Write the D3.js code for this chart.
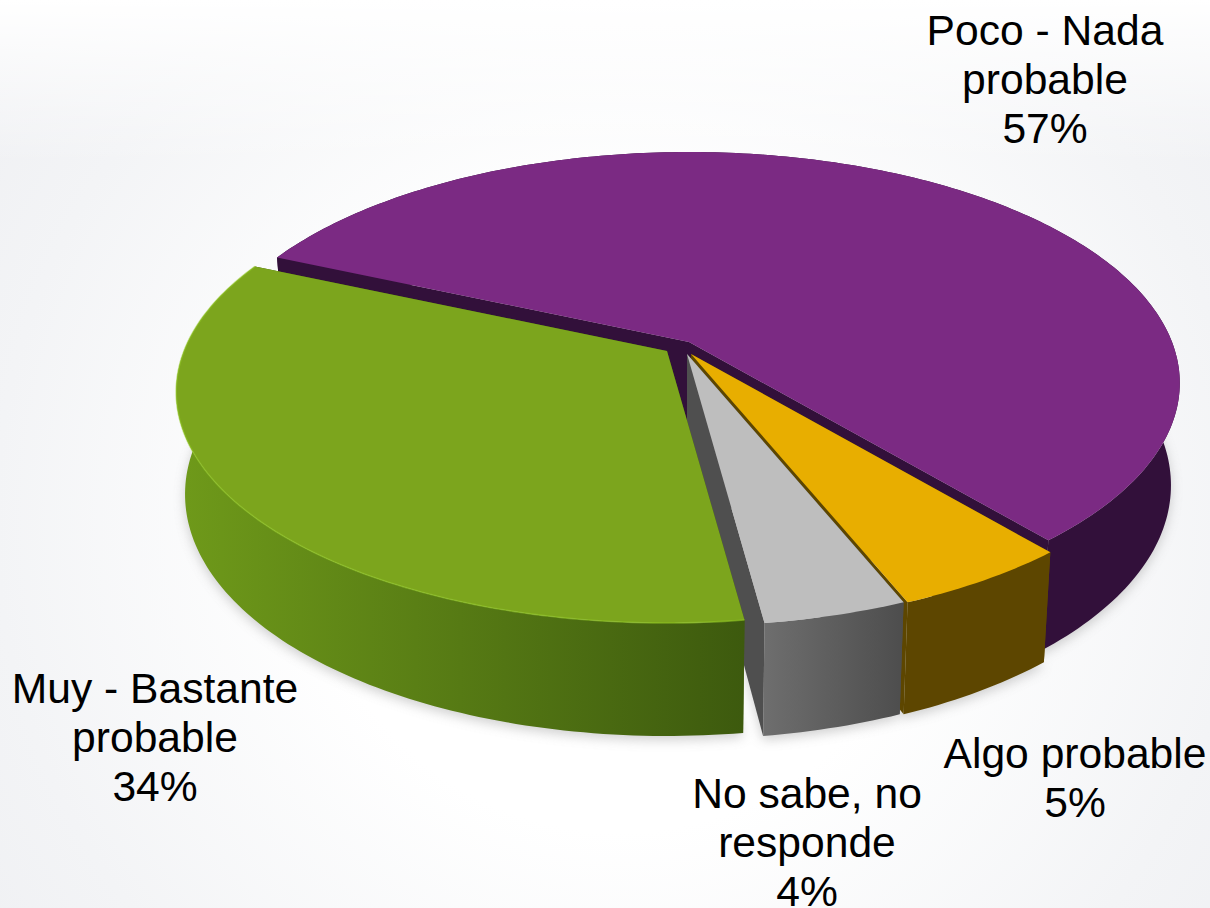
<!DOCTYPE html>
<html><head><meta charset="utf-8">
<script src="https://cdn.jsdelivr.net/npm/d3@7"></script>
<style>html,body{margin:0;padding:0;background:#fff;overflow:hidden}svg{display:block}text{font-family:"Liberation Sans",Arial,sans-serif;fill:#000}</style>
</head><body><svg id="c" width="1210" height="908"></svg>
<script>
const categories = ["Poco - Nada probable","Algo probable","No sabe, no responde","Muy - Bastante probable"];
const values = [57.25,5,4,33.75];
const percentLabels = ["57%","5%","4%","34%"];
const labelLines = [["Poco - Nada","probable"],["Algo probable"],["No sabe, no","responde"],["Muy - Bastante","probable"]];
const topColors = ["#7b2a83","#e8ae00","#bebebe","#7ca51d"];
const cutColors = ["#32103a","#5d4600","#4f4f4f","#3f5c0e"];
const wallFrom = ["#32103a","#5d4600","#6e6e6e","#6f9a1a"];
const wallTo = ["#32103a","#5d4600","#4d4d4d","#3d5a0e"];
const offsets = [[0,0],[2,12],[-2,12],[-22,9]];
const labelAnchors = [[1045,45],[1075,768],[807,808],[155,703]];
const drawOrder = [0,1,2,3];

const W=1210,H=908,cx=689,cy=342,A=223.7,B=483,p=0.1775,rad=Math.PI/180;
const svg=d3.select("#c");
const defs=svg.append("defs");
const bg=defs.append("radialGradient").attr("id","bg").attr("gradientUnits","userSpaceOnUse")
  .attr("cx",620).attr("cy",520).attr("r",780);
bg.append("stop").attr("offset","0.4").attr("stop-color","#ffffff");
bg.append("stop").attr("offset","0.8").attr("stop-color","#f3f4f6");
bg.append("stop").attr("offset","1").attr("stop-color","#eff0f3");
const tb=defs.append("linearGradient").attr("id","tb").attr("x1",0).attr("y1",0).attr("x2",0).attr("y2",1);
tb.append("stop").attr("offset",0).attr("stop-color","#fff").attr("stop-opacity",1);
tb.append("stop").attr("offset",0.18).attr("stop-color","#fff").attr("stop-opacity",0);
defs.append("filter").attr("id","blur").attr("x","-20%").attr("y","-20%").attr("width","140%").attr("height","140%")
  .append("feGaussianBlur").attr("stdDeviation",6);
defs.append("filter").attr("id","soft").append("feGaussianBlur").attr("stdDeviation",0.7);
svg.append("rect").attr("width",W).attr("height",H).attr("fill","url(#bg)");
svg.append("rect").attr("width",W).attr("height",H).attr("fill","url(#tb)");

const pie=d3.pie().sort(null).startAngle(293.9*rad).endAngle((293.9+360)*rad);
const arcs=pie(values);
const line=d3.line();
function disk(a,r){return [r*Math.sin(a),-r*Math.cos(a)];}
function topPt(u,v,o){const k=1-p*v;return [cx+o[0]+B*u/k,cy+o[1]+A*v/k];}
function botPt(u,v,o){const q=topPt(u,v,o);const c=cx+o[0];return [c+(q[0]-c)*0.982,q[1]+100+13*v];}
function arcAngles(d){const n=Math.ceil((d.endAngle-d.startAngle)/(1*rad));return d3.range(n+1).map(i=>d.startAngle+(d.endAngle-d.startAngle)*i/n);}

// soft floor shadow
const shadow=svg.append("g").attr("filter","url(#blur)").attr("opacity",0.4);
drawOrder.forEach(i=>{const d=arcs[i],o=offsets[i];
  const pts=arcAngles(d).map(a=>{const [u,v]=disk(a,1);const q=botPt(u,v,o);return [q[0],q[1]+4];});
  shadow.append("path").attr("d",line(pts)+"L"+(cx+o[0])+","+(cy+o[1]+100)+"Z").attr("fill","#888");
});

drawOrder.forEach(i=>{
  const d=arcs[i],o=offsets[i],g=svg.append("g").attr("class","slice").attr("data-name",categories[i]);
  const tip=topPt(0,0,o),tipB=botPt(0,0,o);
  [d.startAngle,d.endAngle].forEach(a=>{
    const [u,v]=disk(a,1);
    g.append("path").attr("d",line([tip,topPt(u,v,o),botPt(u,v,o),tipB])+"Z").attr("fill",cutColors[i]);
  });
  const as=arcAngles(d);
  const topPts=as.map(a=>{const [u,v]=disk(a,1);return topPt(u,v,o);});
  const botPts=as.map(a=>{const [u,v]=disk(a,1);return botPt(u,v,o);});
  const gid="wall"+i;
  const xs=topPts.filter((q,j)=>Math.cos(as[j])<0.2).map(q=>q[0]);
  const gr=defs.append("linearGradient").attr("id",gid).attr("gradientUnits","userSpaceOnUse")
    .attr("x1",d3.min(xs)).attr("x2",d3.max(xs)).attr("y1",0).attr("y2",0);
  gr.append("stop").attr("offset",0).attr("stop-color",wallFrom[i]);
  gr.append("stop").attr("offset",1).attr("stop-color",wallTo[i]);
  g.append("path").attr("d",line(topPts.concat(botPts.slice().reverse()))+"Z").attr("fill","url(#"+gid+")");
  g.append("path").attr("d",line([tip].concat(topPts))+"Z").attr("fill",topColors[i]);
  if(i===3){
    g.append("path").attr("d",line(topPts))
     .attr("fill","none").attr("stroke","#93c925").attr("stroke-width",1.6).attr("filter","url(#soft)").attr("opacity",0.55);
  }
});

const labels=svg.append("g").attr("font-size",42.6).attr("text-anchor","middle");
labelLines.forEach((ls,i)=>{
  ls.concat([percentLabels[i]]).forEach((t,j)=>{
    labels.append("text").attr("x",labelAnchors[i][0]).attr("y",labelAnchors[i][1]+j*49).text(t);
  });
});
</script></body></html>
